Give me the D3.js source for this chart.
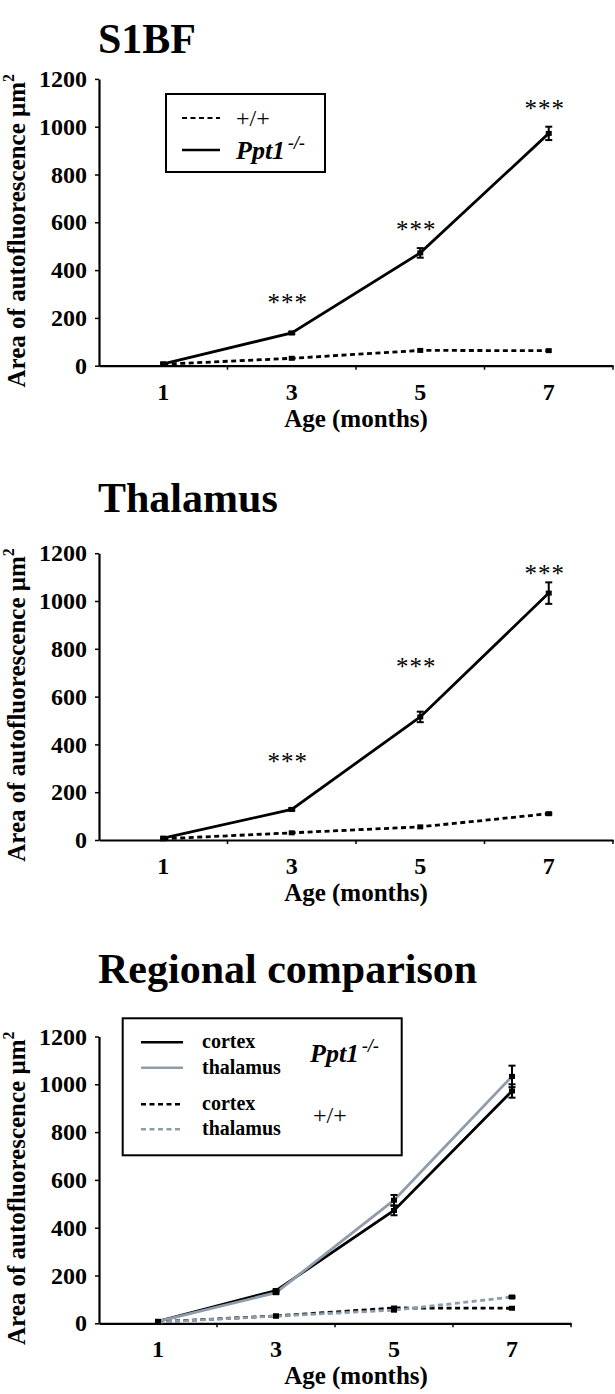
<!DOCTYPE html>
<html><head><meta charset="utf-8">
<script src="https://cdn.jsdelivr.net/npm/d3@7/dist/d3.min.js"></script>
<style>
body{margin:0;background:#fff;}
</style></head>
<body><svg id="c" width="615" height="1394"></svg>
<script>
// ---- data ----
const months = ["1","3","5","7"];
const yTicks = [0,200,400,600,800,1000,1200];
const cortexKO = [8,137,472,972];
const cortexKOerr = [2,5,20,28];
const cortexWT = [6,31,64,63];
const cortexWTerr = [1,2,3,3];
const thalKO = [8,128,515,1033];
const thalKOerr = [2,5,22,45];
const thalWT = [5,30,55,110];
const thalWTerr = [1,2,3,4];
const cortexStars = [null,271,576,1082];
const thalStars = [null,335,732,1121];
const titles = ["S1BF","Thalamus","Regional comparison"];

const FONT = "'Liberation Serif', 'Times New Roman', serif";
const GRAY = "#8f9dab";
const svg = d3.select("#c").style("font-family",FONT);

function txt(sel){ return sel.style("font-family",FONT).attr("fill","#000"); }

function panel(cfg){
  const g = svg.append("g");
  const x = d3.scaleBand().domain(months).range([cfg.x0, cfg.x1]);
  const y = d3.scaleLinear().domain([0,1200]).range([cfg.y0, cfg.y0 - 6*47.8]);
  // title
  txt(g.append("text")).attr("x",98).attr("y",cfg.titleY).attr("font-size",42).attr("font-weight","bold").text(cfg.title);
  // y axis
  const ya = g.append("g").attr("transform",`translate(${cfg.x0},0)`)
    .call(d3.axisLeft(y).tickValues(yTicks).tickFormat(d3.format("d")).tickSize(4).tickSizeOuter(0).tickPadding(8));
  ya.attr("font-family",null).attr("font-size",null);
  ya.select(".domain").attr("stroke","#000").attr("stroke-width",2.2);
  ya.selectAll(".tick line").attr("stroke-width",1.5);
  txt(ya.selectAll(".tick text")).attr("font-size",24).attr("font-weight","bold");
  // x axis
  const xa = g.append("g").attr("transform",`translate(0,${cfg.y0})`)
    .call(d3.axisBottom(x).tickSize(0).tickPadding(17));
  xa.attr("font-family",null).attr("font-size",null);
  xa.select(".domain").attr("stroke","#000").attr("stroke-width",2.2);
  txt(xa.selectAll(".tick text")).attr("font-size",24).attr("font-weight","bold");
  // between-category tick marks
  g.selectAll(".bt").data(months.slice(1).concat(["end"])).enter().append("line")
    .attr("x1",(d,i)=> i<3 ? x(d) : cfg.x1).attr("x2",(d,i)=> i<3 ? x(d) : cfg.x1)
    .attr("y1",cfg.y0).attr("y2",cfg.y0+4).attr("stroke","#000").attr("stroke-width",1.5);
  // axis titles
  txt(g.append("text")).attr("x",356).attr("y",cfg.y0+61)
    .attr("text-anchor","middle").attr("font-size",25).attr("font-weight","bold").text("Age (months)");
  const yl = txt(g.append("text")).attr("transform",`translate(25,${cfg.y0-135}) rotate(-90)`)
    .attr("text-anchor","middle").attr("font-size",25).attr("font-weight","bold");
  yl.append("tspan").text("Area of autofluorescence \u03bcm");
  yl.append("tspan").attr("font-size",16).attr("dy",-11).text("2");

  const cx = d => x(d) + x.bandwidth()/2;
  const line = d3.line().x((d,i)=>cx(months[i])).y(d=>y(d));
  cfg.series.forEach(s=>{
    g.append("path").datum(s.v).attr("d",line).attr("fill","none").attr("stroke",s.color)
      .attr("stroke-width",2.8).attr("stroke-dasharray",s.dash?"5,3.5":null);
  });
  cfg.series.forEach(s=>{
    s.v.forEach((v,i)=>{
      const e = s.err[i]; const xc = cx(months[i]);
      if(e>3){
        g.append("line").attr("x1",xc).attr("x2",xc).attr("y1",y(v+e)).attr("y2",y(v-e)).attr("stroke","#000").attr("stroke-width",2);
        [v+e,v-e].forEach(t=>g.append("line").attr("x1",xc-3.5).attr("x2",xc+3.5).attr("y1",y(t)).attr("y2",y(t)).attr("stroke","#000").attr("stroke-width",2));
      }
      g.append("rect").attr("x",xc-3).attr("y",y(v)-2.5).attr("width",6).attr("height",5).attr("fill","#000");
    });
  });
  if(cfg.stars){
    cfg.stars.forEach((v,i)=>{ if(v==null) return;
      txt(g.append("text")).attr("x",cx(months[i])-4).attr("y",y(v)+10).attr("text-anchor","middle")
        .attr("font-size",25).attr("letter-spacing",1).text("***");
    });
  }
  return {g,x,y};
}

// Panel 1
const p1 = panel({title:titles[0],titleY:53,x0:99,x1:613,y0:365.7,stars:cortexStars,
  series:[{v:cortexWT,err:cortexWTerr,color:"#000",dash:true},{v:cortexKO,err:cortexKOerr,color:"#000"}]});
{
  const g=p1.g;
  g.append("rect").attr("x",166).attr("y",94).attr("width",159).attr("height",78).attr("fill","none").attr("stroke","#000").attr("stroke-width",2);
  g.append("line").attr("x1",182).attr("x2",220).attr("y1",118).attr("y2",118).attr("stroke","#000").attr("stroke-width",2.2).attr("stroke-dasharray","5,3.5");
  g.append("line").attr("x1",182).attr("x2",220).attr("y1",150).attr("y2",150).attr("stroke","#000").attr("stroke-width",2.6);
  txt(g.append("text")).attr("x",236).attr("y",126).attr("font-size",24).text("+/+");
  const t=txt(g.append("text")).attr("x",236).attr("y",159).attr("font-size",26).attr("font-weight","bold").attr("font-style","italic");
  t.append("tspan").text("Ppt1");
  t.append("tspan").attr("font-size",18).attr("dy",-10).attr("dx",3).text("-/-");
}
// Panel 2
panel({title:titles[1],titleY:512,x0:99,x1:613,y0:840,stars:thalStars,
  series:[{v:thalWT,err:thalWTerr,color:"#000",dash:true},{v:thalKO,err:thalKOerr,color:"#000"}]});
// Panel 3
const p3 = panel({title:titles[2],titleY:983,x0:99,x1:571,y0:1323.3,
  series:[{v:cortexWT,err:cortexWTerr,color:"#000",dash:true},{v:thalWT,err:thalWTerr,color:GRAY,dash:true},
          {v:cortexKO,err:cortexKOerr,color:"#000"},{v:thalKO,err:thalKOerr,color:GRAY}]});
{
  const g=p3.g;
  g.append("rect").attr("x",122.7).attr("y",1018.3).attr("width",279).attr("height",137).attr("fill","none").attr("stroke","#000").attr("stroke-width",2);
  const rows=[{y:1042.3,c:"#000",d:false,t:"cortex"},{y:1067.7,c:GRAY,d:false,t:"thalamus"},{y:1104.3,c:"#000",d:true,t:"cortex"},{y:1129.3,c:GRAY,d:true,t:"thalamus"}];
  rows.forEach(r=>{
    g.append("line").attr("x1",141).attr("x2",183).attr("y1",r.y).attr("y2",r.y).attr("stroke",r.c).attr("stroke-width",2.4).attr("stroke-dasharray",r.d?"5,3.5":null);
    txt(g.append("text")).attr("x",202).attr("y",r.y+6).attr("font-size",20).attr("font-weight","bold").text(r.t);
  });
  const t=txt(g.append("text")).attr("x",310).attr("y",1062).attr("font-size",26).attr("font-weight","bold").attr("font-style","italic");
  t.append("tspan").text("Ppt1");
  t.append("tspan").attr("font-size",18).attr("dy",-10).attr("dx",3).text("-/-");
  txt(g.append("text")).attr("x",313).attr("y",1123).attr("font-size",24).text("+/+");
}
</script></body></html>
